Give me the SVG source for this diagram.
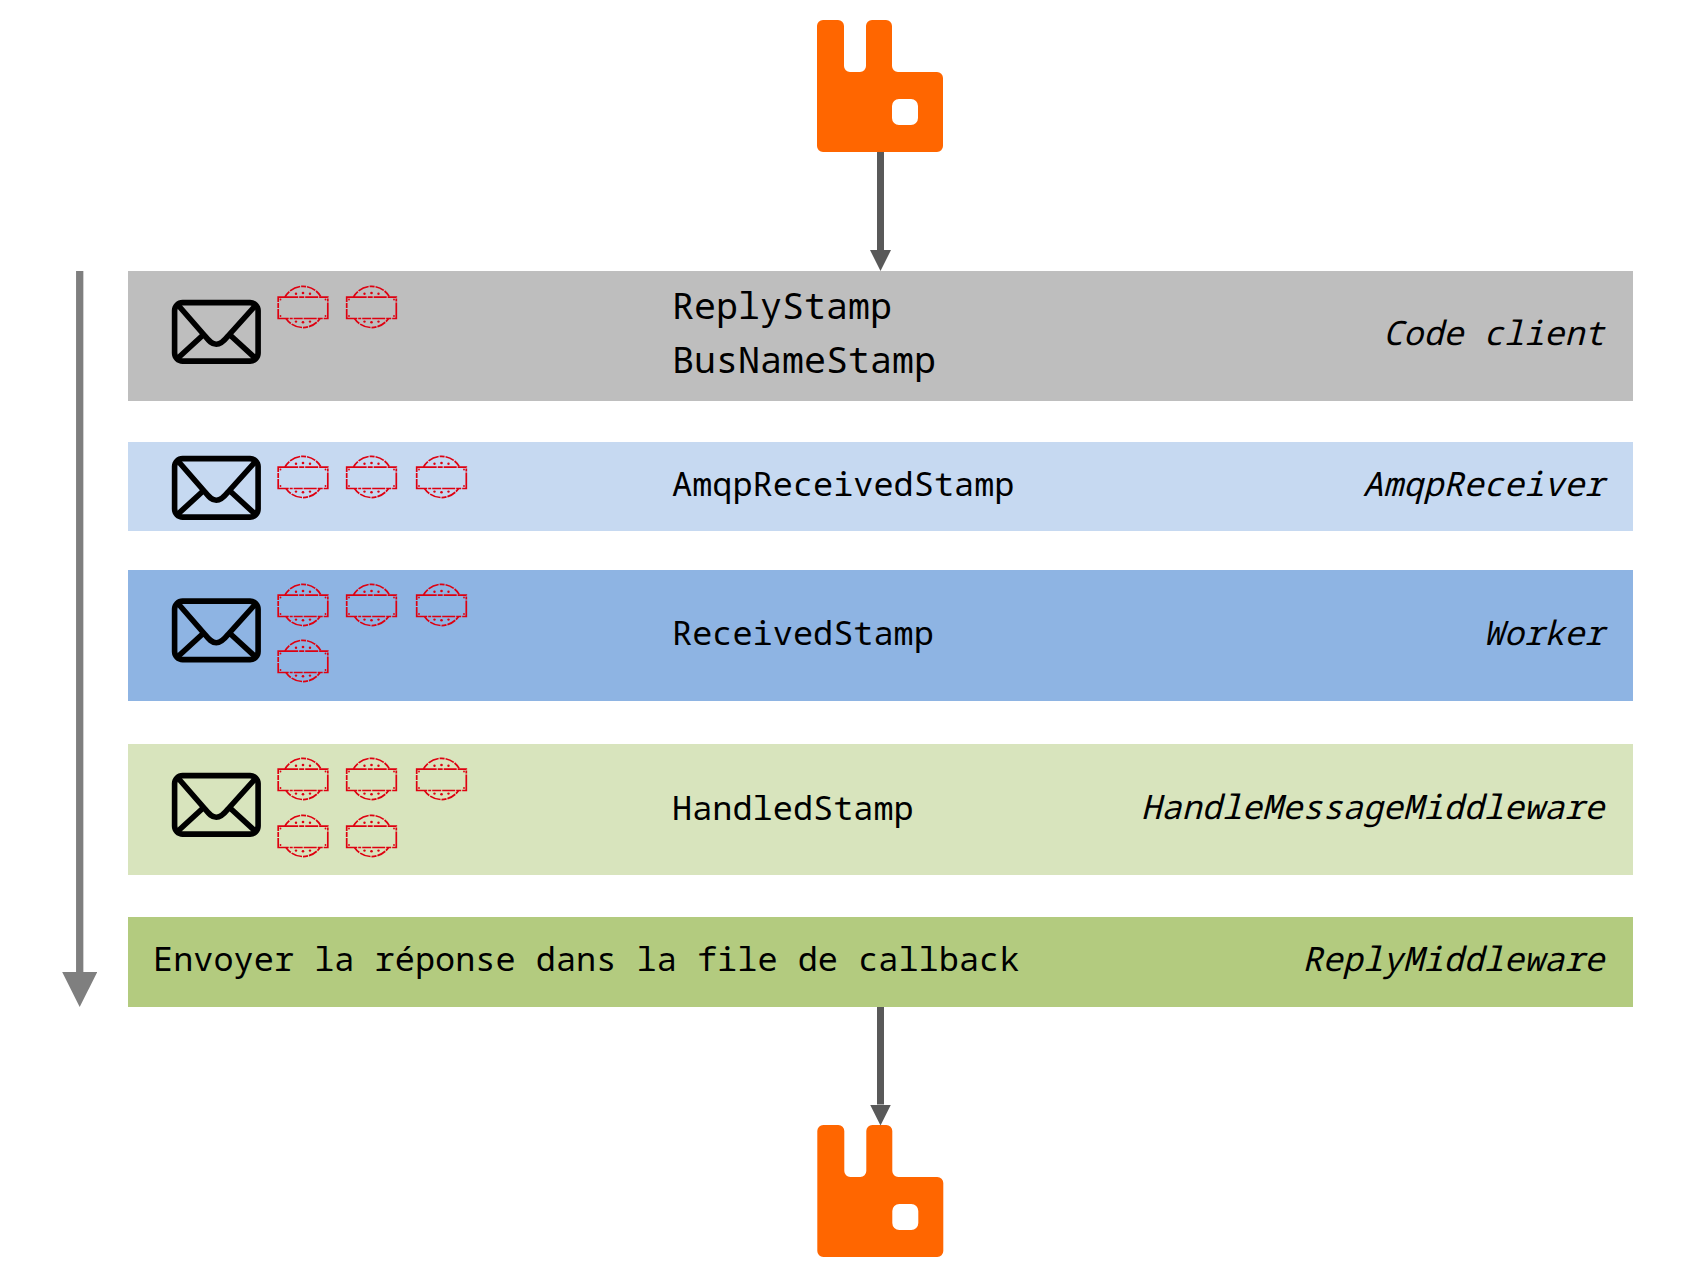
<svg xmlns="http://www.w3.org/2000/svg" width="1700" height="1287" viewBox="0 0 1700 1287">
<style>
text{font-family:"Noto Sans Mono","Droid Sans Mono","DejaVu Sans Mono","Liberation Mono",monospace;fill:#000}
.s{font-size:33.6px}
.l{font-size:36.67px}
.r{font-size:33.6px;font-style:italic;text-anchor:end}
.env{fill:none;stroke:#000;stroke-width:5.6;stroke-linecap:round;stroke-linejoin:round}
.st{fill:none;stroke:#de0010;stroke-width:1.7}
.conn{stroke:#595959;stroke-width:7;fill:none}
</style>
<defs>
<marker id="ah" markerUnits="userSpaceOnUse" markerWidth="21" markerHeight="21" refX="0" refY="10.5" orient="auto"><path d="M0 0L21 10.5L0 21Z" fill="#595959"/></marker>
<marker id="ahl" markerUnits="userSpaceOnUse" markerWidth="35" markerHeight="35" refX="0" refY="17.5" orient="auto"><path d="M0 0L35 17.5L0 35Z" fill="#7f7f7f"/></marker>
<path id="rabbit" fill="#ff6600" fill-rule="evenodd" d="M6 0H21A6 6 0 0 1 27 6V46A6 6 0 0 0 33 52H43A6 6 0 0 0 49 46V6A6 6 0 0 1 55 0H69A6 6 0 0 1 75 6V46A6 6 0 0 0 81 52H120A6 6 0 0 1 126 58V126A6 6 0 0 1 120 132H6A6 6 0 0 1 0 126V6A6 6 0 0 1 6 0ZM82 79A7 7 0 0 0 75 86V98A7 7 0 0 0 82 105H94A7 7 0 0 0 101 98V86A7 7 0 0 0 94 79Z"/>
<g id="envelope" class="env">
<rect x="2.6" y="2.6" width="83.5" height="58.5" rx="8"/>
<path d="M6 5L33 36C37 41 40 44.3 44.3 44.3C48.5 44.3 52 41 56 36L83 6M30 36L6 58M58 35L83 58"/>
</g>
<g id="stamp">
<path class="st" stroke-dasharray="7 1 11 1 5 1 9 1" d="M-18 -10A20.5 20.5 0 0 1 18 -10"/>
<path class="st" stroke-dasharray="7 1 11 1 5 1 9 1" d="M-17 11.5A20.5 20.5 0 0 0 17 11.5"/>
<rect class="st" x="-24.8" y="-9.8" width="49.6" height="21.3" stroke-dasharray="20 1 5 1 13 1 9 1 3 1"/>
<g fill="#de0010">
<circle cx="-7" cy="-13.2" r="1.2"/><circle cx="0" cy="-14" r="1.3"/><circle cx="7" cy="-13.2" r="1.2"/>
<circle cx="-7" cy="14.6" r="1.2"/><circle cx="0" cy="15.2" r="1.3"/><circle cx="7" cy="14.6" r="1.2"/>
<circle cx="-22.5" cy="-7.5" r=".9"/><circle cx="22.5" cy="-7.5" r=".9"/><circle cx="-22.5" cy="9" r=".9"/><circle cx="22.5" cy="9" r=".9"/>
</g>
</g>
</defs>
<rect width="1700" height="1287" fill="#fff"/>
<g id="row-client">
<rect x="128" y="271" width="1505" height="130" fill="#bebebe"/>
<use href="#envelope" x="172" y="300"/>
<use href="#stamp" x="303" y="307"/><use href="#stamp" x="371.5" y="307"/>
<text class="l" x="672" y="319">ReplyStamp</text>
<text class="l" x="672" y="373">BusNameStamp</text>
<text class="r" x="1604.5" y="345">Code client</text>
</g>
<g id="row-amqp">
<rect x="128" y="442" width="1505" height="89" fill="#c6d9f1"/>
<use href="#envelope" x="172" y="456"/>
<use href="#stamp" x="303" y="477"/><use href="#stamp" x="371.5" y="477"/><use href="#stamp" x="441.5" y="477"/>
<text class="s" x="672" y="495.7">AmqpReceivedStamp</text>
<text class="r" x="1604.5" y="495.7">AmqpReceiver</text>
</g>
<g id="row-worker">
<rect x="128" y="570" width="1505" height="131" fill="#8eb4e3"/>
<use href="#envelope" x="172" y="598.5"/>
<use href="#stamp" x="303" y="605"/><use href="#stamp" x="371.5" y="605"/><use href="#stamp" x="441.5" y="605"/>
<use href="#stamp" x="303" y="661"/>
<text class="s" x="672" y="645">ReceivedStamp</text>
<text class="r" x="1604.5" y="645">Worker</text>
</g>
<g id="row-handle">
<rect x="128" y="744" width="1505" height="131" fill="#d8e4bd"/>
<use href="#envelope" x="172" y="773"/>
<use href="#stamp" x="303" y="779"/><use href="#stamp" x="371.5" y="779"/><use href="#stamp" x="441.5" y="779"/>
<use href="#stamp" x="303" y="836"/><use href="#stamp" x="371.5" y="836"/>
<text class="s" x="672" y="820">HandledStamp</text>
<text class="r" x="1604.5" y="819">HandleMessageMiddleware</text>
</g>
<g id="row-reply">
<rect x="128" y="917" width="1505" height="90" fill="#b3cb7f"/>
<text class="s" x="153" y="970.5">Envoyer la réponse dans la file de callback</text>
<text class="r" x="1604.5" y="970.5">ReplyMiddleware</text>
</g>
<g id="rabbit-top"><use href="#rabbit" x="817" y="20"/></g>
<g id="rabbit-bottom"><use href="#rabbit" x="817.3" y="1125"/></g>
<g id="connectors">
<line class="conn" x1="880.5" y1="152" x2="880.5" y2="250" marker-end="url(#ah)"/>
<line class="conn" x1="880.5" y1="1007" x2="880.5" y2="1104.5" marker-end="url(#ah)"/>
<line x1="79.7" y1="271" x2="79.7" y2="972" stroke="#7f7f7f" stroke-width="7.3" marker-end="url(#ahl)"/>
</g>
</svg>
